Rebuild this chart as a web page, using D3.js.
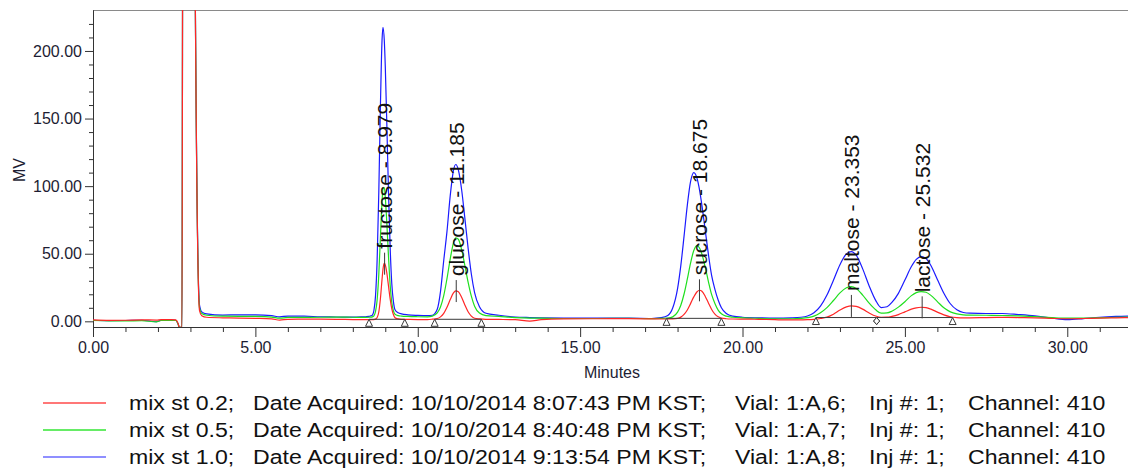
<!DOCTYPE html>
<html>
<head>
<meta charset="utf-8">
<script src="https://cdn.jsdelivr.net/npm/d3@7"></script>
<style>
  body { margin: 0; background: #fff; }
  svg { display: block; font-family: "Liberation Sans", Arial, sans-serif; }
</style>
</head>
<body>
<svg id="chart" width="1128" height="469"></svg>
<script>
// retention time grid (min) and detector response (mV) per run
const minutes = [0, 0.5, 1.0, 1.5, 1.95, 2.1, 2.4, 2.55, 2.62, 2.66, 2.74, 2.77, 3.13, 3.15, 3.28, 3.35, 3.5, 4.0, 4.5, 5.0, 5.5, 5.75, 6.0, 6.5, 7.0, 7.5, 8.0,
  8.3, 8.4, 8.5, 8.55, 8.6, 8.65, 8.7, 8.75, 8.8, 8.85, 8.9, 8.93, 8.97, 9.0, 9.05, 9.1, 9.15, 9.2, 9.25, 9.3, 9.4, 9.5, 9.7, 10.0, 10.3,
  10.45, 10.6, 10.7, 10.8, 10.9, 11.0, 11.1, 11.17, 11.25, 11.35, 11.45, 11.55, 11.65, 11.75, 11.9, 12.1, 12.5,
  13.0, 13.45, 13.8, 14.5, 15.5, 16.5, 17.2, 17.5,
  17.7, 17.85, 18.0, 18.1, 18.2, 18.3, 18.4, 18.5, 18.6, 18.68, 18.75, 18.85, 18.95, 19.05, 19.15, 19.25, 19.35, 19.5, 19.7, 20.0,
  20.5, 21.0, 21.5,
  21.8, 22.0, 22.2, 22.4, 22.6, 22.8, 23.0, 23.2, 23.35, 23.5, 23.7, 23.9, 24.1, 24.27, 24.45, 24.6, 24.8, 25.0, 25.2, 25.35, 25.5, 25.65, 25.8, 26.0, 26.2, 26.4, 26.6, 26.8, 27.0, 27.5, 28.0, 28.5, 29.0, 29.5, 30.0, 30.5, 31.0, 31.5, 32.0];

const mix02 = [1.0, 0.7, 0.8, 1.1, 0.9, 1.2, 1.3, 1.1, -1.5, -4.5, -4.5, 400, 400, 240, 8, 4.2, 3.0, 2.6, 2.4, 2.2, 1.8, 0.9, 1.5, 1.6, 1.6, 1.5, 1.3,
  1.2, 1.3, 1.3, 1.3, 1.3, 1.3, 1.6, 2.8, 6.9, 16.7, 31, 38.6, 43, 41.8, 35.5, 26, 16.6, 9.4, 5, 2.7, 1.8, 1.5, 1.4, 1.3, 1.3,
  1.6, 2.1, 3.3, 5.9, 10.4, 16.1, 21, 22.5, 21.9, 17.8, 12.1, 7.1, 3.9, 2.3, 1.8, 1.5, 1.4,
  1.2, 0.2, 1.2, 1.8, 1.9, 2.0, 1.8, 1.7,
  1.7, 1.8, 2.2, 3.1, 5.1, 8.4, 13.1, 18.1, 21.9, 23, 22.2, 18.6, 13.6, 8.8, 5.3, 3.3, 2.4, 1.9, 1.7, 1.6,
  1.5, 1.2, 1.0,
  1.1, 1.2, 1.5, 2.1, 3.1, 5.2, 8.3, 10.7, 11.4, 11.0, 9.0, 6.2, 3.9, 3.0, 3.1, 3.7, 5.0, 7.0, 9.0, 10.0, 10.4, 10.1, 9.0, 6.8, 4.8, 3.4, 2.8, 2.6, 2.6, 2.8, 2.9, 2.8, 2.6, 2.2, 1.9, 2.1, 2.4, 2.6, 2.7];

const mix05 = [0.6, 0.4, 0.3, 0.5, -0.4, 0.6, 0.7, 0.6, -2, -4.5, -4.5, 400, 400, 240, 10, 5.8, 4.5, 3.8, 3.7, 3.6, 3.1, 2.3, 2.9, 2.9, 3.0, 3.1, 3.0,
  2.9, 2.9, 3.0, 3.1, 3.3, 4.1, 7.3, 16, 34.5, 62, 88.5, 98, 99, 92, 71.6, 47.4, 27, 14, 7.8, 5.2, 4.2, 3.9, 3.6, 3.4, 3.3,
  3.8, 6.2, 10.6, 19, 31.6, 46.2, 58, 61.7, 60.7, 53.2, 41.4, 29, 18.6, 11.2, 6.1, 4.2, 3.6,
  2.8, 2.4, 2.3, 2.1, 2.1, 2.2, 2.0, 2.2,
  2.4, 3.3, 6.8, 11.9, 20.2, 31.2, 43.1, 52.4, 56, 54.1, 49.7, 40.2, 29.4, 19.7, 13.2, 8.3, 5.6, 3.8, 3.0, 2.6,
  2.2, 1.9, 1.9,
  2.2, 2.7, 3.8, 6.3, 10.1, 15.4, 21, 24.8, 25.7, 24.3, 19.4, 13.4, 8.5, 6.0, 6.2, 7.5, 10.5, 14.5, 19.0, 21.2, 22, 21.5, 19.2, 14.6, 10, 7.0, 5.5, 4.8, 4.6, 4.5, 4.3, 4.0, 3.5, 2.8, 2.3, 2.3, 2.6, 3.0, 3.2];

const mix10 = [0.8, 0.5, 0.6, 0.8, -0.3, 0.8, 0.9, 0.8, -2, -4.5, -4.5, 400, 400, 240, 12, 7, 5.5, 4.6, 4.8, 4.8, 4.2, 3.3, 3.9, 3.8, 3.4, 3.2, 3.1,
  3.3, 3.4, 3.6, 4.0, 4.5, 8.0, 19, 46, 95, 159, 208, 217.5, 207.5, 188.6, 143.5, 94.5, 54.7, 28, 14.8, 8.6, 6.3, 5.5, 4.8, 4.4, 4.2,
  4.5, 9, 22, 45, 66.5, 93, 111.7, 116, 112, 97.5, 76.4, 54.2, 35, 21.3, 10.8, 6.0, 4.5,
  3.2, 2.8, 2.6, 2.4, 2.3, 2.3, 2.1, 2.7,
  4.3, 9.8, 24.2, 41.2, 63, 85.8, 103.3, 110, 105.7, 96.7, 85.8, 67.7, 49.5, 33.8, 23.7, 15.8, 10.1, 5.8, 3.8, 3.0,
  2.6, 2.4, 2.6,
  3.0, 3.9, 6.3, 11.2, 19.4, 30.4, 41.9, 49.9, 51.6, 48.9, 38.8, 26.2, 15.5, 10.2, 10.8, 14, 20.7, 30.5, 40.5, 45.8, 47.9, 46.5, 41.3, 31, 20.8, 13, 8.5, 6.5, 6.0, 5.8, 5.8, 5.0, 4.0, 2.5, 1.2, 2.0, 3.0, 3.6, 3.9];

// peak table
const peakNames = ["fructose", "glucose", "sucrose", "maltose", "lactose"];
const peakTimes = [8.979, 11.185, 18.675, 23.353, 25.532];
const baseStart = [8.50, 10.52, 17.66, 22.26, 24.13];
const baseEnd = [9.60, 11.96, 19.35, 24.13, 26.47];
const baseLevel = [1.5, 1.5, 2.2, 2.8, 2.8];

// legend
const runNames = ["mix st 0.2", "mix st 0.5", "mix st 1.0"];
const acquired = ["10/10/2014 8:07:43 PM KST", "10/10/2014 8:40:48 PM KST", "10/10/2014 9:13:54 PM KST"];
const vials = ["1:A,6", "1:A,7", "1:A,8"];
const injections = [1, 1, 1];
const channels = [410, 410, 410];

const xMajor = [0, 5, 10, 15, 20, 25, 30];
const xMinor = d3.range(1, 32).filter(d => d % 5 !== 0);
const yMajor = [0, 50, 100, 150, 200];
const yMinor = d3.range(10, 230, 10).filter(d => d % 50 !== 0);

const svg = d3.select("svg#chart");
const plot = {left: 93, right: 1128, top: 10, bottom: 327};
const colors = ["#ff2626", "#1edf1e", "#1a1aff"];
const legendColors = ["#ff4a4a", "#33e633", "#6a6aff"];
const textColor = "#1d1d33";

const x = d3.scaleLinear().domain([0, 31.87]).range([plot.left, plot.right]);
const y = d3.scaleLinear().domain([-4.2, 230.3]).range([plot.bottom, plot.top]);
const fmt = d3.format(".2f");

// frame top
svg.append("line")
    .attr("x1", plot.left).attr("x2", plot.right)
    .attr("y1", plot.top + 0.5).attr("y2", plot.top + 0.5)
    .attr("stroke", "#8a8a8a");

function styleAxis(g) {
    g.selectAll("path.domain").attr("stroke", "#333");
    g.selectAll(".tick line").attr("stroke", "#333");
    g.selectAll(".tick text").attr("fill", textColor).attr("font-size", 16)
        .attr("font-family", "Liberation Sans, Arial, sans-serif");
}

svg.append("g")
    .attr("transform", `translate(0,${plot.bottom})`)
    .call(d3.axisBottom(x).tickValues(xMinor).tickFormat("").tickSize(5).tickSizeOuter(0))
    .call(styleAxis);
svg.append("g")
    .attr("transform", `translate(0,${plot.bottom})`)
    .call(d3.axisBottom(x).tickValues(xMajor).tickFormat(fmt).tickSize(10).tickSizeOuter(0).tickPadding(5))
    .call(styleAxis);

svg.append("g")
    .attr("transform", `translate(${plot.left},0)`)
    .call(d3.axisLeft(y).tickValues(yMinor).tickFormat("").tickSize(4).tickSizeOuter(0))
    .call(styleAxis);
svg.append("g")
    .attr("transform", `translate(${plot.left},0)`)
    .call(d3.axisLeft(y).tickValues(yMajor).tickFormat(fmt).tickSize(8).tickSizeOuter(0).tickPadding(3))
    .call(styleAxis);

svg.append("text")
    .attr("x", 612).attr("y", 378)
    .attr("text-anchor", "middle")
    .attr("font-size", 16).attr("fill", textColor)
    .text("Minutes");

svg.append("text")
    .attr("transform", "translate(25,170) rotate(-90)")
    .attr("text-anchor", "middle")
    .attr("font-size", 16).attr("fill", textColor)
    .text("MV");

// traces
svg.append("clipPath").attr("id", "plotClip")
    .append("rect")
    .attr("x", plot.left).attr("y", plot.top)
    .attr("width", plot.right - plot.left).attr("height", plot.bottom - plot.top);

const line = d3.line()
    .x((d, i) => x(minutes[i]))
    .y(d => y(d))
    .curve(d3.curveMonotoneX);

const traces = svg.append("g").attr("clip-path", "url(#plotClip)");
[mix10, mix05, mix02].forEach((series, k) => {
    traces.append("path")
        .attr("d", line(series))
        .attr("fill", "none")
        .attr("stroke", colors[2 - k])
        .attr("stroke-width", 1.2);
});

function valueAt(series, t) {
    const i = d3.bisectLeft(minutes, t);
    const t0 = minutes[i - 1], t1 = minutes[i];
    return series[i - 1] + (series[i] - series[i - 1]) * (t - t0) / (t1 - t0);
}

// integration baselines and peak labels
const marks = svg.append("g").attr("stroke", "#3a3a3a").attr("fill", "none");
peakNames.forEach((name, i) => {
    const yb = y(baseLevel[i]);
    marks.append("line")
        .attr("x1", x(baseStart[i])).attr("x2", x(baseEnd[i]))
        .attr("y1", yb).attr("y2", yb);

    [baseStart[i], baseEnd[i]].forEach(t => {
        const cx = x(t);
        const shared = baseEnd.includes(t) && baseStart.includes(t);
        if (shared) {
            marks.append("path")
                .attr("d", `M${cx},${yb} l3,3.5 l-3,3.5 l-3,-3.5 Z`)
                .attr("fill", "#fff");
        } else {
            marks.append("path")
                .attr("d", `M${cx},${yb} l3.5,7 h-7 Z`)
                .attr("fill", "#fff");
        }
    });

    const px = x(peakTimes[i]);
    const py = y(valueAt(mix02, peakTimes[i]));
    marks.append("line")
        .attr("x1", px).attr("x2", px)
        .attr("y1", py - 11).attr("y2", py + 11);

    svg.append("text")
        .attr("transform", `translate(${px},${py - 15}) rotate(-90)`)
        .attr("dy", "0.36em")
        .attr("font-size", 21)
        .attr("fill", "#111")
        .text(`${name} - ${peakTimes[i].toFixed(3)}`);
});

// legend (text slightly widened like the source export)
const stretch = 1.1;
const legend = svg.append("g")
    .attr("transform", `scale(${stretch},1)`)
    .attr("font-size", 21).attr("fill", "#111");
runNames.forEach((name, i) => {
    const ly = 403 + i * 27;
    svg.append("line")
        .attr("x1", 43).attr("x2", 106)
        .attr("y1", ly).attr("y2", ly)
        .attr("stroke", legendColors[i])
        .attr("stroke-width", 1.5);
    const cols = [
        [129, `${name};`],
        [253, `Date Acquired: ${acquired[i]};`],
        [735, `Vial: ${vials[i]};`],
        [869, `Inj #: ${injections[i]};`],
        [968, `Channel: ${channels[i]}`]
    ];
    cols.forEach(([cx, str]) => {
        legend.append("text")
            .attr("x", cx / stretch).attr("y", ly)
            .attr("dy", "0.35em")
            .text(str);
    });
});
</script>
</body>
</html>
